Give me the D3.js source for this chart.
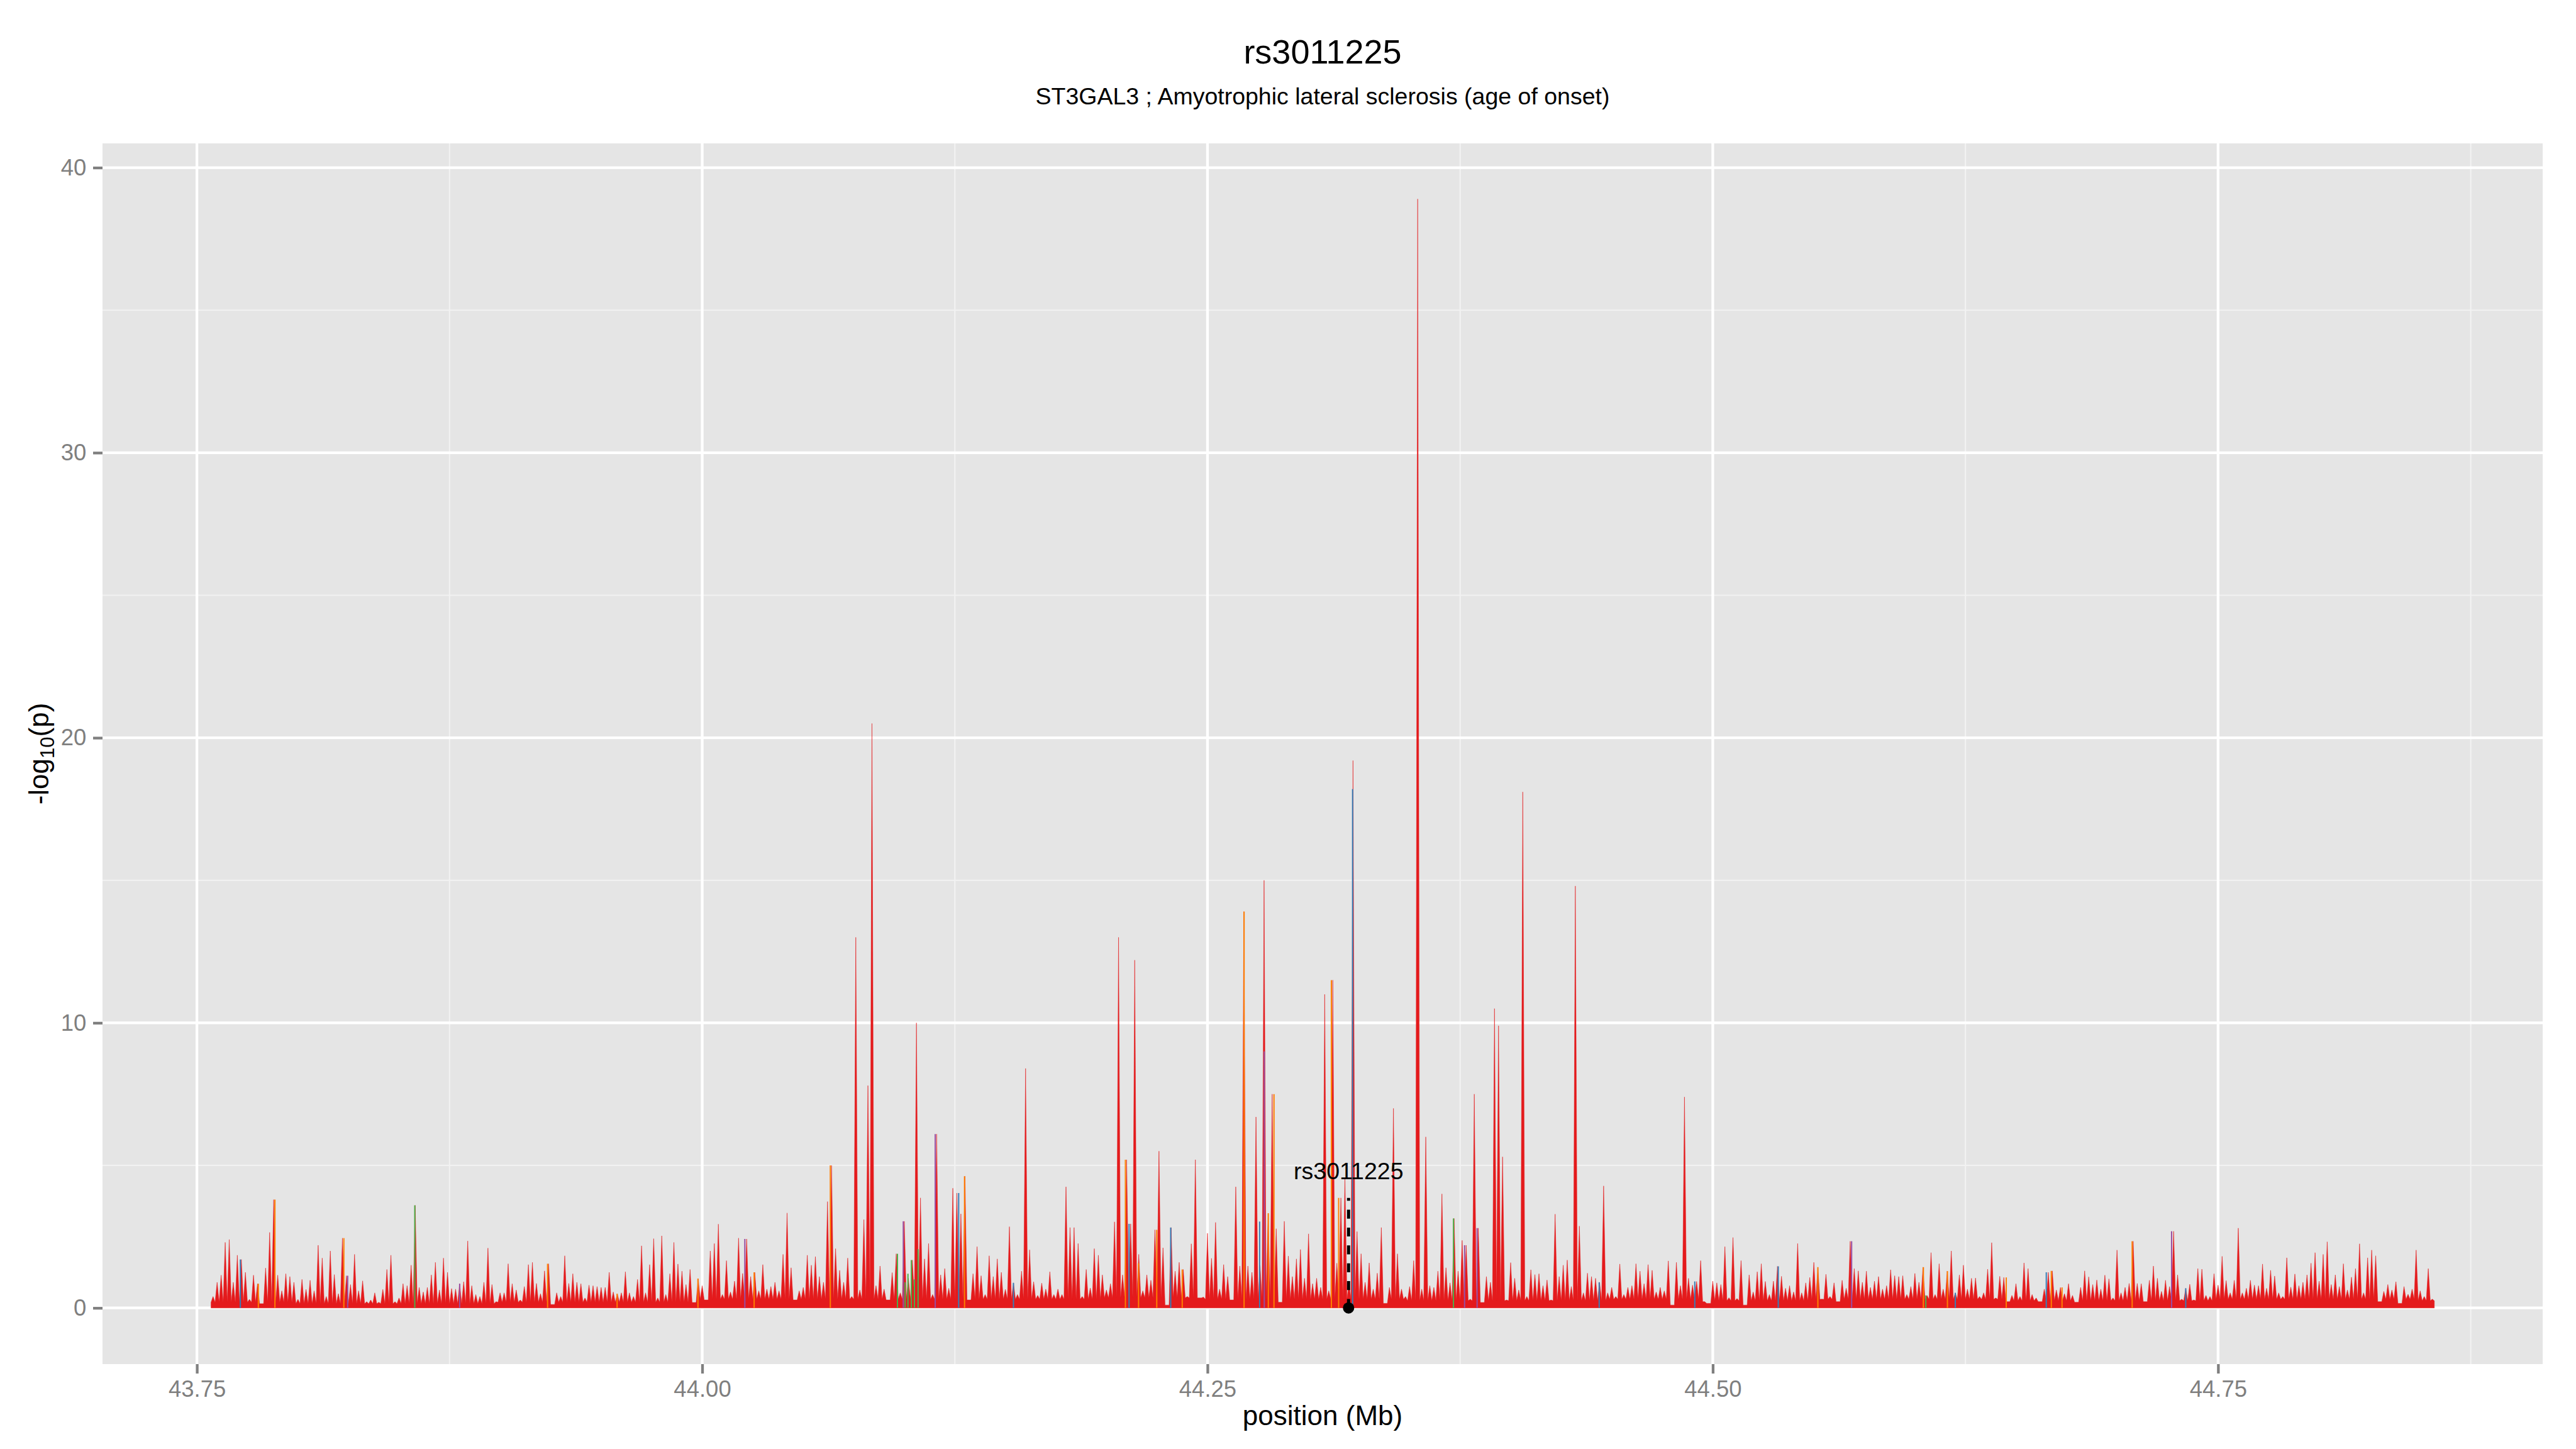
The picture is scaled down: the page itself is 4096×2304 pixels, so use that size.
<!DOCTYPE html>
<html><head><meta charset="utf-8">
<script src="https://cdn.jsdelivr.net/npm/d3@7"></script>
<style>html,body{margin:0;padding:0;background:#fff;} svg{display:block;}</style>
</head><body>
<svg id="chart" width="4096" height="2304"></svg>
<script>
// ---------------- DATA ----------------
const titleText = "rs3011225";
const subtitleText = "ST3GAL3 ; Amyotrophic lateral sclerosis (age of onset)";
const xAxisTitle = "position (Mb)";

// association signal, one value per 0.002 Mb bin starting at 43.758 Mb
const binStart = 43.758;
const binStep = 0.002;
const logP = [
0.4,0.9,1.15,2.3,2.4,0.9,1.85,1.7,1.25,0.3,
1.15,0.85,0.15,1.4,2.65,3.8,1.15,0.6,1.2,1.1,
0.9,0.3,1.0,0.65,0.97,0.6,2.2,1.75,0.4,2.0,
1.17,0.5,2.45,1.13,0.82,1.88,0.6,0.95,0.22,0.28,
0.53,0.2,0.65,1.35,1.85,0.22,0.35,0.85,0.78,1.5,
3.6,0.72,0.56,0.72,1.16,1.6,0.63,1.75,1.25,0.68,
0.66,0.85,0.92,2.35,0.78,0.47,0.4,0.9,2.1,0.82,
0.22,0.53,0.53,1.55,0.85,0.63,0.28,0.75,1.52,1.6,
0.86,0.5,1.3,1.55,0.12,0.53,0.4,1.83,0.86,1.2,
0.9,0.85,0.35,0.8,0.78,0.75,0.72,0.72,1.25,0.56,
0.5,0.53,1.27,0.53,0.4,1.0,2.18,0.53,1.52,2.43,
0.35,2.53,0.47,1.2,2.3,1.54,1.29,0.82,1.35,0.19,
1.03,0.78,0.28,2.0,2.26,2.94,0.47,1.66,0.56,0.94,
2.45,1.21,2.42,1.1,1.25,0.6,1.52,0.66,0.75,0.9,
0.6,1.88,3.33,1.41,0.28,0.6,0.72,1.85,1.5,1.8,
1.1,0.9,3.73,5.0,2.08,1.32,0.9,1.75,0.4,13.0,
0.63,3.1,7.8,20.5,0.78,1.47,0.66,0.28,1.24,1.9,
0.53,3.04,1.04,1.68,10.0,3.86,1.72,2.26,0.47,6.1,
1.16,1.38,0.69,4.2,4.03,3.3,4.62,0.28,1.2,2.15,
1.13,0.47,1.83,1.1,1.72,1.25,0.65,2.85,0.88,0.47,
1.29,8.4,2.04,0.92,0.44,0.87,0.66,1.27,0.47,0.66,
0.47,4.25,2.82,2.82,2.26,0.4,1.35,0.7,2.08,1.85,
1.16,0.63,0.85,3.02,13.0,1.16,5.2,2.95,12.2,1.88,
0.6,1.16,0.97,2.74,5.5,2.11,0.1,2.82,1.29,1.6,
1.35,0.4,2.25,5.2,0.35,0.38,2.62,1.74,3.0,0.66,
1.52,1.1,0.28,4.25,1.47,13.9,1.47,1.25,6.7,1.5,
15.0,3.32,7.5,2.78,0.2,3.04,1.82,1.1,1.72,2.05,
1.04,2.6,0.85,1.04,0.72,11.0,0.6,11.5,1.57,3.86,
4.55,0.9,19.2,2.68,1.9,0.9,1.58,0.66,1.22,2.82,
0.16,0.72,7.0,1.9,0.66,0.4,0.75,1.66,38.9,0.66,
6.0,0.78,0.72,1.29,4.0,1.41,0.88,3.14,1.29,2.37,
2.2,0.31,7.5,2.8,0.19,1.1,0.9,10.5,9.9,5.3,
0.28,1.59,1.04,0.63,18.1,0.4,1.34,1.17,1.2,0.78,
0.98,0.28,3.29,1.1,1.5,1.68,0.75,14.8,2.87,0.53,
1.22,1.1,1.04,0.9,4.28,0.53,0.72,0.4,1.54,0.47,
0.72,0.78,1.55,1.29,0.85,1.52,1.32,0.56,0.72,0.6,
1.65,0.1,1.6,0.78,7.4,1.04,0.8,0.93,1.66,0.22,
0.16,0.94,0.88,0.82,2.15,0.36,2.47,0.33,1.66,0.1,
1.16,0.56,1.27,1.55,0.93,0.47,0.94,1.46,1.11,0.69,
0.78,0.56,2.26,0.53,0.88,1.07,1.6,1.43,0.31,1.18,
0.4,0.88,0.22,0.97,0.69,2.34,1.38,1.3,0.9,1.29,
0.72,0.94,1.1,0.66,0.78,1.34,1.13,1.1,1.13,0.47,
0.75,1.21,0.9,1.43,0.44,1.94,0.47,1.55,0.66,1.29,
2.0,0.53,1.16,1.5,0.66,1.04,1.05,0.4,0.53,1.36,
2.29,0.35,1.11,1.07,0.22,0.44,0.85,0.4,1.58,1.38,
0.47,0.35,0.22,0.66,1.25,1.3,0.63,0.72,0.5,0.85,
0.44,0.2,0.72,1.3,1.09,0.82,0.98,0.66,1.15,1.02,
0.35,2.03,0.53,0.72,0.86,2.34,0.86,0.85,0.22,0.97,
1.47,1.04,0.58,0.97,0.75,2.69,1.16,0.31,0.69,0.83,
0.28,1.38,1.36,0.44,0.4,1.2,0.8,1.81,0.96,0.53,
0.97,2.8,0.53,0.69,0.97,0.8,0.78,1.54,0.69,1.32,
1.12,0.53,0.4,1.76,0.73,1.19,0.78,0.9,1.16,1.57,
1.94,0.94,1.88,2.32,0.82,1.16,0.75,1.55,0.63,1.08,
1.38,2.25,0.53,1.76,2.03,1.83,0.22,0.58,0.82,0.63,
0.92,0.16,0.75,0.48,0.66,2.03,0.6,0.4,1.38,0.31
];

// dense background level of the signal, one value per 0.05 Mb from 43.75 Mb
const floorStart = 43.75;
const floorStep = 0.05;
const noiseFloor = [0.2,0.15,0.15,0.2,0.2,0.3,0.3,0.3,0.3,0.35,0.3,0.3,0.25,0.25,0.3,0.25,0.3,0.3,0.25,0.25,0.3,0.3,0.25];

// SNPs drawn in LD colours
const ldPos = [43.7715,43.7804,43.7886,43.8227,43.8246,43.8578,43.8800,43.9235,43.9579,43.9979,
44.0211,44.0257,44.0634,44.0966,44.0995,44.1004,44.1018,44.1035,44.1050,44.1068,
44.1153,44.1269,44.1298,44.1540,44.2094,44.2112,44.2159,44.2249,44.2318,44.2375,
44.2681,44.2758,44.2781,44.2801,44.2829,44.3113,44.3149,44.3218,44.3717,44.3772,
44.3834,44.4438,44.4911,44.5324,44.5520,44.5687,44.6042,44.6054,44.6161,44.6200,
44.6452,44.6650,44.6675,44.6728,44.7075,44.7270,44.7340];
const ldLogP = [1.7,0.85,3.8,2.45,1.13,3.6,0.85,1.55,0.5,1.03,
2.42,1.25,5.0,1.9,3.04,0.9,1.2,1.68,1.0,2.06,
6.1,4.03,4.62,0.88,5.2,2.95,1.57,2.74,2.82,1.35,
13.9,3.03,9.0,3.32,7.5,11.5,3.86,18.2,3.14,2.2,
2.8,0.9,0.93,1.46,1.43,2.34,1.43,0.44,1.29,0.53,
1.07,1.25,1.3,0.72,2.34,2.69,0.69];
const ldGroup = ["blue","orange","orange","orange","purple","green","purple","orange","orange","orange",
"purple","orange","orange","green","purple","green","green","green","green","green",
"purple","blue","orange","blue","orange","blue","orange","orange","blue","orange",
"orange","blue","purple","orange","orange","orange","orange","blue","green","purple",
"purple","blue","blue","blue","orange","purple","orange","green","orange","blue",
"orange","blue","orange","orange","orange","purple","blue"];
const groupColors = {red:"#E41A1C", blue:"#377EB8", green:"#4DAF4A", purple:"#984EA3", orange:"#FF7F00"};

const leadSnp = {name:"rs3011225", pos:44.3198, lineTop:3.86, labelY:4.52};

const xTicks = [43.75,44.00,44.25,44.50,44.75];
const xTickLabels = ["43.75","44.00","44.25","44.50","44.75"];
const xMinorTicks = [43.875,44.125,44.375,44.625,44.875];
const yTicks = [0,10,20,30,40];
const yTickLabels = ["0","10","20","30","40"];
const yMinorTicks = [5,15,25,35];

// ---------------- DRAW ----------------
const svg = d3.select("#chart");
const W = 4096, H = 2304;
const panel = {left:163, right:4043, top:228, bottom:2169};
const x = d3.scaleLinear().domain([43.7033, 44.9106]).range([panel.left, panel.right]);
const y = d3.scaleLinear().domain([-1.97, 40.85]).range([panel.bottom, panel.top]);
const FONT = "'Liberation Sans', Arial, Helvetica, sans-serif";

svg.append("rect").attr("width", W).attr("height", H).attr("fill", "#ffffff");
svg.append("rect").attr("x", panel.left).attr("y", panel.top)
  .attr("width", panel.right - panel.left).attr("height", panel.bottom - panel.top)
  .attr("fill", "#E5E5E5");

svg.append("defs").append("clipPath").attr("id","clip")
  .append("rect").attr("x", panel.left).attr("y", panel.top)
  .attr("width", panel.right - panel.left).attr("height", panel.bottom - panel.top);

const grid = svg.append("g");
grid.selectAll(".xmin").data(xMinorTicks).join("line")
  .attr("x1", d=>x(d)).attr("x2", d=>x(d)).attr("y1", panel.top).attr("y2", panel.bottom)
  .attr("stroke", "#F2F2F2").attr("stroke-width", 2.1);
grid.selectAll(".ymin").data(yMinorTicks).join("line")
  .attr("y1", d=>y(d)).attr("y2", d=>y(d)).attr("x1", panel.left).attr("x2", panel.right)
  .attr("stroke", "#F2F2F2").attr("stroke-width", 2.1);
grid.selectAll(".xmaj").data(xTicks).join("line")
  .attr("x1", d=>x(d)).attr("x2", d=>x(d)).attr("y1", panel.top).attr("y2", panel.bottom)
  .attr("stroke", "#FFFFFF").attr("stroke-width", 4.3);
grid.selectAll(".ymaj").data(yTicks).join("line")
  .attr("y1", d=>y(d)).attr("y2", d=>y(d)).attr("x1", panel.left).attr("x2", panel.right)
  .attr("stroke", "#FFFFFF").attr("stroke-width", 4.3);

// signal area
function floorAt(p){
  const k = Math.max(0, Math.min(noiseFloor.length-1, Math.floor((p - floorStart)/floorStep)));
  return noiseFloor[k];
}
const pts = [];
const lastPos = binStart + (logP.length-1)*binStep;
logP.forEach((v,i)=>{
  const p = binStart + i*binStep;
  const prev = i>0 ? logP[i-1] : v;
  pts.push([p - binStep/2, Math.min(floorAt(p), v, prev)]);
  pts.push([p, v]);
});
pts.push([lastPos + binStep/2, Math.min(floorAt(lastPos), logP[logP.length-1])]);

const plot = svg.append("g").attr("clip-path","url(#clip)");
const area = d3.area().x(d=>x(d[0])).y0(y(0)).y1(d=>y(d[1]));
plot.append("path").datum(pts).attr("d", area)
  .attr("fill", groupColors.red).attr("stroke", groupColors.red)
  .attr("stroke-width", 1).attr("stroke-opacity", 0.55).attr("stroke-linejoin","miter");

// LD coloured SNPs
plot.selectAll(".ld").data(ldPos.map((p,i)=>({p, v:ldLogP[i], g:ldGroup[i]}))).join("line")
  .attr("x1", d=>x(d.p)).attr("x2", d=>x(d.p)).attr("y1", y(0)).attr("y2", d=>y(d.v))
  .attr("stroke", d=>groupColors[d.g]).attr("stroke-width", 2);

// lead SNP marker
plot.append("line")
  .attr("x1", x(leadSnp.pos)).attr("x2", x(leadSnp.pos))
  .attr("y1", y(0)).attr("y2", y(leadSnp.lineTop))
  .attr("stroke", "#000").attr("stroke-width", 5).attr("stroke-dasharray", "14.2,14.2");
plot.append("circle").attr("cx", x(leadSnp.pos)).attr("cy", y(0)).attr("r", 9).attr("fill", "#000");
plot.append("text").attr("x", x(leadSnp.pos)).attr("y", y(leadSnp.labelY))
  .attr("text-anchor","middle").attr("font-family", FONT).attr("font-size", 37.5)
  .attr("fill","#000").text(leadSnp.name);

// axes
const xAxis = d3.axisBottom(x).tickValues(xTicks).tickFormat((d,i)=>xTickLabels[i])
  .tickSize(15).tickPadding(11);
const gx = svg.append("g").attr("transform", `translate(0,${panel.bottom})`).call(xAxis);
const yAxis = d3.axisLeft(y).tickValues(yTicks).tickFormat((d,i)=>yTickLabels[i])
  .tickSize(15).tickPadding(10.6);
const gy = svg.append("g").attr("transform", `translate(${panel.left},0)`).call(yAxis);
[gx, gy].forEach(g=>{
  g.select(".domain").remove();
  g.selectAll(".tick line").attr("stroke", "#7F7F7F").attr("stroke-width", 4.3);
  g.selectAll(".tick text").attr("fill", "#7F7F7F").attr("font-family", FONT).attr("font-size", 36.5);
});

const cx = (panel.left + panel.right)/2;
svg.append("text").attr("x", cx).attr("y", 101).attr("text-anchor","middle")
  .attr("font-family", FONT).attr("font-size", 54).attr("fill","#000").text(titleText);
svg.append("text").attr("x", cx).attr("y", 166).attr("text-anchor","middle")
  .attr("font-family", FONT).attr("font-size", 37.5).attr("fill","#000").text(subtitleText);
svg.append("text").attr("x", cx).attr("y", 2266).attr("text-anchor","middle")
  .attr("font-family", FONT).attr("font-size", 44).attr("fill","#000").text(xAxisTitle);

const yt = svg.append("text")
  .attr("transform", `translate(77,${(panel.top+panel.bottom)/2}) rotate(-90)`)
  .attr("text-anchor","middle").attr("font-family", FONT).attr("font-size", 44).attr("fill","#000");
yt.append("tspan").text("-log");
yt.append("tspan").attr("font-size", 31).attr("dy", 9).text("10");
yt.append("tspan").attr("dy", -9).text("(p)");
</script>
</body></html>
